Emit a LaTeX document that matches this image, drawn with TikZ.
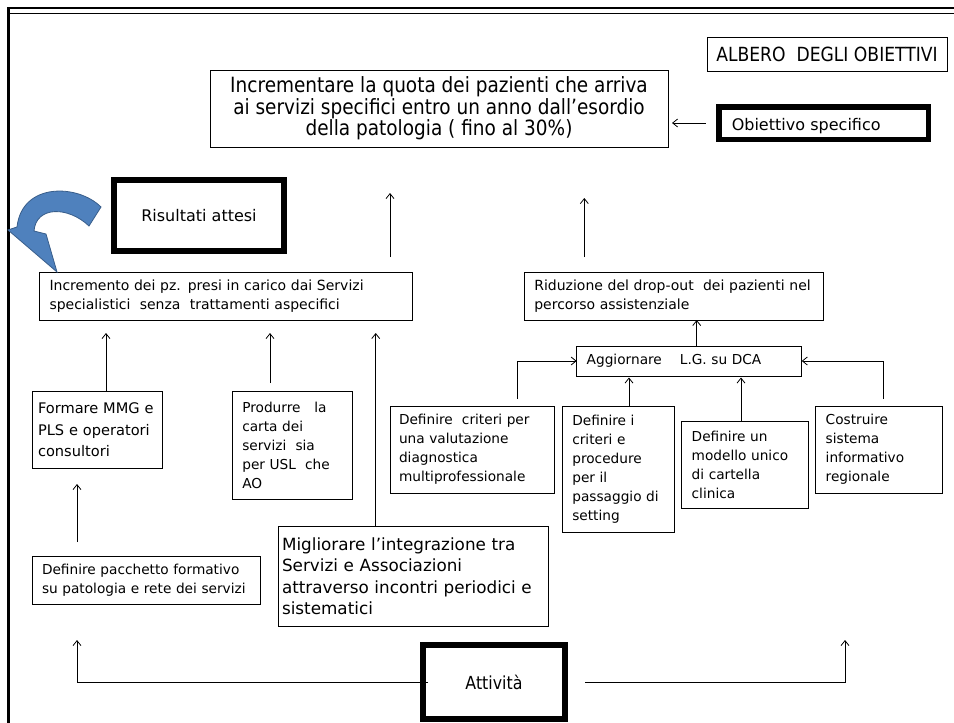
\documentclass[tikz,border=0pt]{standalone}
\usepackage{fontspec}
\setmainfont{DejaVu Sans}
\newfontfamily\condfont[FakeStretch=0.88]{DejaVu Sans}
\usetikzlibrary{arrows.meta}
\definecolor{arrowblue}{HTML}{4F81BD}
\definecolor{arrowedge}{HTML}{385D8A}
\begin{document}
\begin{tikzpicture}[x=1pt,y=-1pt,
  bx/.style={draw, line width=0.75pt, anchor=north west, outer sep=0pt, inner ysep=0pt, align=left},
  hv/.style={draw, line width=5.5pt, anchor=north west, outer sep=0pt, inner sep=0pt},
  arr/.style={line width=0.8pt, -{Straight Barb[length=5pt,width=8pt]}},
  ln/.style={line width=0.8pt},
  crit/.style={font=\fontsize{13.7}{19}\selectfont}]
\useasboundingbox (0,0) rectangle (954,723);
% frame
\draw[line width=2.2pt] (8.5,723) -- (8.5,8.3) -- (954,8.3);
\draw[line width=1pt] (9.6,13) -- (954,13);

% top
\node[bx, align=center, minimum width=240, minimum height=34, inner sep=0pt,
  font=\condfont\fontsize{19.5}{21}\selectfont] (albero) at (707,37) {ALBERO\ \ DEGLI OBIETTIVI};
\node[bx, align=center, minimum width=458, minimum height=77, inner sep=0pt,
  font=\condfont\fontsize{21}{21.5}\selectfont] (goal) at (210,70)
  {Incrementare la quota dei pazienti che arriva\\ai servizi specifici entro un anno dall’esordio\\della patologia ( fino al 30\%)};
\node[hv, minimum width=209.5, minimum height=32.5, inner xsep=13pt, text width=183.5pt, align=left,
  font=\fontsize{16}{18}\selectfont] (obj) at (718.75,106.75)
  {\raisebox{-3pt}[\height][\depth]{Obiettivo specifico}};
\draw[arr, shorten <=13pt, shorten >=4pt] (obj.west) -- (obj.west -| goal.east);

% results
\node[hv, line width=6pt, minimum width=170, minimum height=71,
  font=\fontsize{16}{19}\selectfont] (ris) at (114,180) {Risultati attesi};
\node[bx, minimum width=373, minimum height=48, inner xsep=10pt, text width=353pt,
  font=\fontsize{14}{19}\selectfont] (inc) at (39.5,272)
  {Incremento dei pz. presi in carico dai Servizi\\specialistici\ \ senza\ \ trattamenti aspecifici};
\node[bx, minimum width=299, minimum height=48, inner xsep=10pt, text width=279pt,
  font=\fontsize{14}{19}\selectfont] (rid) at (524.3,272)
  {Riduzione del drop-out\ \ dei pazienti nel\\percorso assistenziale};
\draw[arr] (inc.north west) ++(350.5,-15) -- ++(0,-64);
\draw[arr] (rid.north west) ++(60,-15) -- ++(0,-59);

% blue curved arrow
\filldraw[fill=arrowblue, draw=arrowedge, line width=0.8pt]
  (101,207) .. controls (78,184) and (22,182) .. (17,227) -- (8,230) -- (57,272) -- (46,234)
  -- (34,231) .. controls (36,206) and (68,206) .. (89,226) -- cycle;

% right branch
\node[bx, minimum width=225, minimum height=30, inner xsep=10pt, text width=205pt, crit] (agg) at (576.7,346)
  {Aggiornare\hspace{18pt}L.G. su DCA};
\draw[arr] (agg.north west) ++(120,0) coordinate (g1) -- (g1 |- rid.south);
\node[bx, minimum width=164, minimum height=87, inner xsep=9pt, text width=146pt, crit] (diag) at (390,406)
  {Definire\ \ criteri per\\una valutazione\\diagnostica\\multiprofessionale};
\node[bx, minimum width=112, minimum height=126, inner xsep=10pt, text width=92pt, crit] (pass) at (562.3,406)
  {Definire i\\criteri e\\procedure\\per il\\passaggio di\\setting};
\node[bx, minimum width=126.6, minimum height=87.3, inner xsep=10pt, text width=106.6pt, crit] (mod) at (681.7,421)
  {Definire un\\modello unico\\di cartella\\clinica};
\node[bx, minimum width=127, minimum height=87.3, inner xsep=10pt, text width=107pt, crit] (cost) at (815.7,406)
  {Costruire\\sistema\\informativo\\regionale};
\draw[arr] (diag.north west) ++(127.3,-7) |- (agg.west);
\draw[arr] (cost.north west) ++(67.6,-7) |- (agg.east);
\draw[arr] (pass.north west) ++(66.7,0) coordinate (p1) -- ([yshift=-1.5pt]p1 |- agg.south);
\draw[arr] (mod.north west) ++(59.3,0) coordinate (m1) -- ([yshift=-1.5pt]m1 |- agg.south);

% left branch
\node[bx, minimum width=130, minimum height=76.6, inner xsep=6pt, text width=118pt,
  font=\fontsize{14.6}{21.5}\selectfont] (form) at (32,391.7)
  {Formare MMG e\\PLS e operatori\\consultori};
\node[bx, minimum width=120, minimum height=108, inner xsep=10pt, text width=100pt, crit] (prod) at (232.3,391)
  {Produrre\ \ \ la\\carta dei\\servizi\ \ sia\\per USL\ \ che\\AO};
\node[bx, minimum width=228, minimum height=48, inner xsep=10pt, text width=208pt, crit] (pac) at (32,556)
  {Definire pacchetto formativo\\su patologia e rete dei servizi};
\node[bx, minimum width=270, minimum height=100, inner xsep=4pt, text width=262pt,
  font=\fontsize{16.8}{21.5}\selectfont] (mig) at (278,526)
  {Migliorare l’integrazione tra\\Servizi e Associazioni\\attraverso incontri periodici e\\sistematici};
\draw[arr, shorten >=13pt] (form.north west) ++(74,0) coordinate (f1) -- (f1 |- inc.south);
\draw[arr, shorten >=13pt] (prod.north west) ++(37.7,-8) coordinate (r1) -- (r1 |- inc.south);
\draw[arr, shorten >=13pt] (mig.north west) ++(97.7,0) coordinate (i1) -- (i1 |- inc.south);
\draw[arr] (pac.north west) ++(45,-14) -- ++(0,-58);

% activities
\node[hv, line width=6pt, minimum width=142, minimum height=74,
  font=\condfont\fontsize{18}{21}\selectfont] (att) at (423,645) {Attività};
\draw[arr] ([xshift=5pt]att.west) -| ([shift={(45,36)}]pac.south west);
\draw[arr] ([xshift=20pt]att.east) -| ([shift={(29.3,146.7)}]cost.south west);
\end{tikzpicture}
\end{document}
